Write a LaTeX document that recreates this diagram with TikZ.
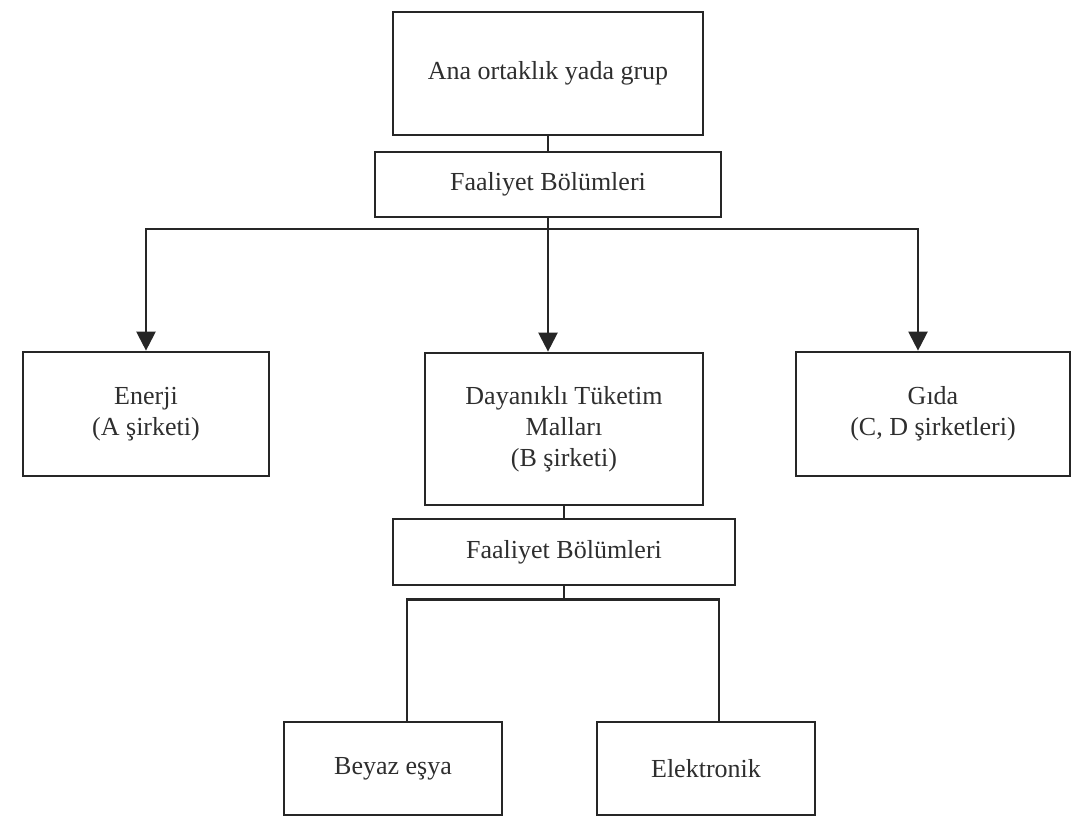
\documentclass[tikz,border=0pt]{standalone}
\usepackage{fontspec}
\setmainfont{Liberation Serif}
\usetikzlibrary{arrows.meta,calc}
\definecolor{ink}{HTML}{262626}
\definecolor{txt}{HTML}{2E2E2E}
\tikzset{
  box/.style={draw=ink, line width=2.7pt, inner sep=0pt, align=center,
    text=txt, font=\fontsize{26}{31}\selectfont},
  conn/.style={draw=ink, line width=2.3pt},
  arr/.style={conn, -{Triangle[length=19pt,width=19pt]}}
}
\begin{document}
\begin{tikzpicture}[x=1pt,y=-1pt]
\useasboundingbox (0,0) rectangle (1079,834);
\node[box, minimum width=310pt, minimum height=123pt] (top) at (548,73.5) {Ana ortaklık yada grup};
\node[box, minimum width=346pt, minimum height=65pt] (fa1) at (548,184.5) {Faaliyet Bölümleri};
\node[box, minimum width=246pt, minimum height=124pt] (enerji) at (146,414) {Enerji\\(A şirketi)};
\node[box, minimum width=278pt, minimum height=152pt] (dayan) at (564,429) {Dayanıklı Tüketim\\Malları\\(B şirketi)};
\node[box, minimum width=274pt, minimum height=124pt] (gida) at (933,414) {Gıda\\(C, D şirketleri)};
\node[box, minimum width=342pt, minimum height=66pt] (fa2) at (564,552) {Faaliyet Bölümleri};
\node[box, minimum width=218pt, minimum height=93pt] (beyaz) at (393,768.5) {Beyaz eşya};
\node[box, minimum width=218pt, minimum height=93pt] (elek) at (706,768.5) {Elektronik};
% connectors
\draw[conn] (top.south) -- (fa1.north);
\draw[conn] (fa1.south) -- ++(0,11) coordinate (bus);
\draw[arr] (bus) -| (enerji.north);
\draw[arr] (bus) -- (bus |- dayan.north);
\draw[arr] (bus) -| ([xshift=-15pt]gida.north);
\draw[conn] (dayan.south) -- (fa2.north);
\draw[conn] (fa2.south) -- ++(0,13) coordinate (fork);
\draw[conn] (fork) -| ([xshift=14pt]beyaz.north);
\draw[conn] (fork) -| ([xshift=13pt]elek.north);
\end{tikzpicture}
\end{document}
